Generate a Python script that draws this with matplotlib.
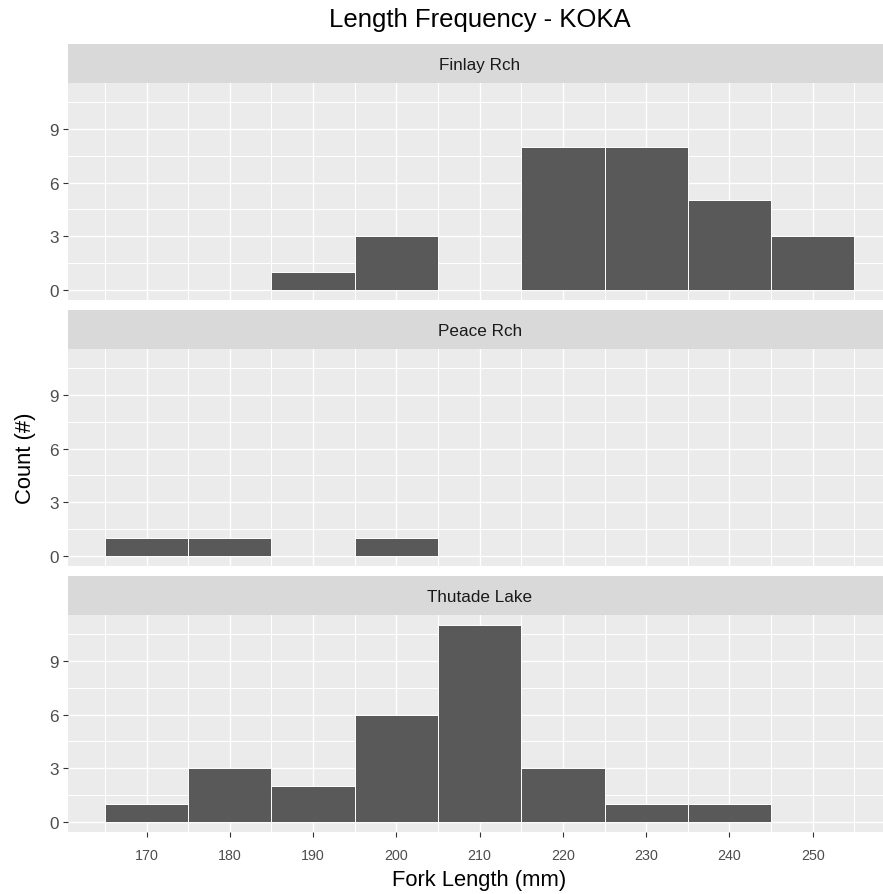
import matplotlib
matplotlib.use('Agg')
import matplotlib.pyplot as plt
import numpy as np

plt.rcParams['font.family'] = ['Liberation Sans', 'DejaVu Sans']

# Histogram data (binwidth 10 mm)
bin_left = [165, 175, 185, 195, 205, 215, 225, 235, 245]
bin_width = 10
lakes = ['Finlay Rch', 'Peace Rch', 'Thutade Lake']
finlay_counts = [0, 0, 1, 3, 0, 8, 8, 5, 3]
peace_counts = [1, 1, 0, 1, 0, 0, 0, 0, 0]
thutade_counts = [1, 3, 2, 6, 11, 3, 1, 1, 0]
x_ticks = [170, 180, 190, 200, 210, 220, 230, 240, 250]
y_ticks = [0, 3, 6, 9]

W, H = 883, 895
fig = plt.figure(figsize=(W / 100, H / 100), dpi=100)

PANEL_BG = '#EBEBEB'
STRIP_BG = '#D9D9D9'
BAR_FILL = '#595959'
TICK_COL = '#4D4D4D'

# layout in pixels
left_px, right_px = 67.5, 891.8
strip_tops = [45, 311, 577]
strip_h = 39
panel_h = 217

xlim = (160.5, 259.5)
ylim = (-0.55, 11.55)

all_counts = [finlay_counts, peace_counts, thutade_counts]

for i, (lake, counts) in enumerate(zip(lakes, all_counts)):
    st = strip_tops[i]
    # strip
    sax = fig.add_axes([left_px / W, 1 - (st + strip_h) / H,
                        (right_px - left_px) / W, strip_h / H])
    sax.set_facecolor(STRIP_BG)
    sax.set_xticks([])
    sax.set_yticks([])
    for s in sax.spines.values():
        s.set_visible(False)
    # centre text on the visible part of the strip (same centre as panel)
    sax.text(0.5, 0.47, lake, transform=sax.transAxes, ha='center', va='center',
             fontsize=12.3, color='#1A1A1A')

    # panel
    pt = st + strip_h
    ax = fig.add_axes([left_px / W, 1 - (pt + panel_h) / H,
                       (right_px - left_px) / W, panel_h / H])
    ax.set_facecolor(PANEL_BG)
    for s in ax.spines.values():
        s.set_visible(False)
    ax.set_xlim(*xlim)
    ax.set_ylim(*ylim)
    ax.set_axisbelow(True)

    ax.set_xticks(x_ticks)
    ax.set_xticks(bin_left + [255], minor=True)
    ax.set_yticks(y_ticks)
    ax.set_yticks([1.5, 4.5, 7.5, 10.5], minor=True)
    ax.grid(True, which='major', color='white', linewidth=1.0)
    ax.grid(True, which='minor', color='white', linewidth=0.75)

    bl = [b for b, c in zip(bin_left, counts) if c > 0]
    bc = [c for c in counts if c > 0]
    ax.bar(bl, bc, width=bin_width, align='edge', color=BAR_FILL,
           edgecolor='white', linewidth=0.7, zorder=3)

    ax.tick_params(axis='y', which='major', length=3.5, width=0.8, color='#333333',
                   labelsize=12.3, labelcolor=TICK_COL, pad=3)
    ax.tick_params(which='minor', length=0)
    if i == len(lakes) - 1:
        ax.tick_params(axis='x', which='major', length=3.5, width=0.8, color='#333333',
                       labelsize=10.3, labelcolor=TICK_COL, pad=8)
    else:
        ax.tick_params(axis='x', which='major', length=0, labelbottom=False)

fig.text(479.6 / W, 1 - 26.7 / H, 'Length Frequency - KOKA', ha='center',
         va='baseline', fontsize=18.5, color='black')
fig.text(479.6 / W, 1 - 886.5 / H, 'Fork Length (mm)', ha='center',
         va='baseline', fontsize=15.8, color='black')
fig.text(26 / W, 1 - 458 / H, 'Count (#)', ha='center', va='center',
         rotation=90, fontsize=15.8, color='black')

fig.savefig('out.png', dpi=100, facecolor='white')
